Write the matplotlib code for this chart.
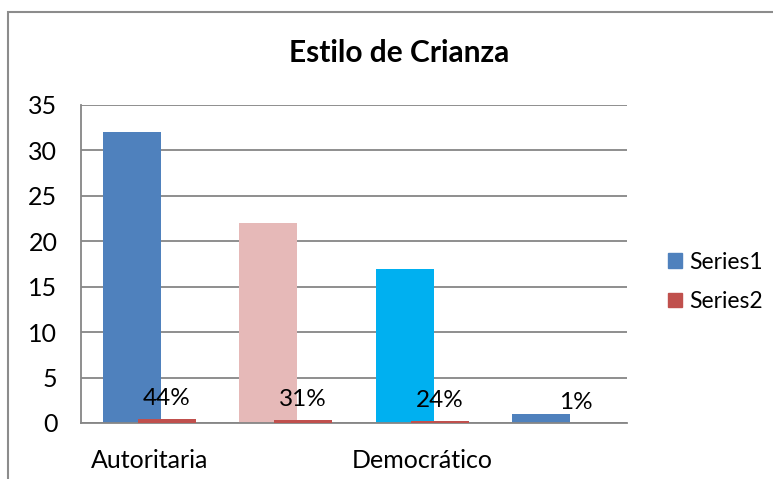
import matplotlib
matplotlib.use("Agg")
import matplotlib.pyplot as plt
from matplotlib.patches import Rectangle
import numpy as np

plt.rcParams["font.family"] = ["Lato", "DejaVu Sans"]

# data
categories = ["Autoritaria", "Permisiva", "Democrático", "Negligente"]
tick_labels = ["Autoritaria", "", "Democrático", ""]
series1 = [32, 22, 17, 1]
series2 = [0.44, 0.31, 0.24, 0.01]
series1_colors = ["#4F81BD", "#E6B9B8", "#00B0F0", "#4F81BD"]
series2_color = "#C0504D"

W, H = 773, 479
fig = plt.figure(figsize=(W / 100, H / 100), dpi=100)
ax = fig.add_axes([81 / W, 1 - 423 / H, (627 - 81) / W, (423 - 105) / H])

x = np.arange(len(categories))
bw = 0.425
off = 0.128
ax.bar(x - off, series1, width=bw, color=series1_colors, zorder=2)
ax.bar(x + off, series2, width=bw, color=series2_color, zorder=3)

for xi, v in zip(x, series2):
    ax.annotate(f"{v:.0%}", (xi + off, v), xytext=(0, 7), textcoords="offset points",
                ha="center", va="bottom", fontsize=17.5, color="black")

ax.set_xlim(-0.5, 3.5)
ax.set_ylim(0, 35)
ax.set_yticks(range(0, 36, 5))
ax.set_xticks(x)
ax.set_xticklabels(tick_labels)
ax.tick_params(axis="both", length=0, labelsize=18)
ax.tick_params(axis="y", pad=17)
ax.tick_params(axis="x", pad=19)
ax.yaxis.grid(True, color="#868686", linewidth=1.3, zorder=0)
ax.set_axisbelow(True)
for s in ("top", "right"):
    ax.spines[s].set_visible(False)
for s in ("left", "bottom"):
    ax.spines[s].set_color("#868686")
    ax.spines[s].set_linewidth(1.3)

fig.text(399 / W, 1 - 53 / H, "Estilo de Crianza", ha="center", va="center",
         fontsize=21.5, fontweight="bold")

# legend
handles = [Rectangle((0, 0), 1, 1, color=series1_colors[0]),
           Rectangle((0, 0), 1, 1, color=series2_color)]
fig.legend(handles, ["Series1", "Series2"], loc="center left",
           bbox_to_anchor=(668 / W, 1 - 282 / H), frameon=False, fontsize=16.5,
           borderpad=0, borderaxespad=0, handlelength=0.61, handleheight=0.61,
           handletextpad=0.3, labelspacing=0.8)

# outer chart border
fig.patches.append(Rectangle((8 / W, -0.1), 1.1, 1 - 12 / H + 0.1,
                             transform=fig.transFigure, fill=False,
                             edgecolor="#8C8C8C", linewidth=1.5))

fig.savefig("out.png", dpi=100)
